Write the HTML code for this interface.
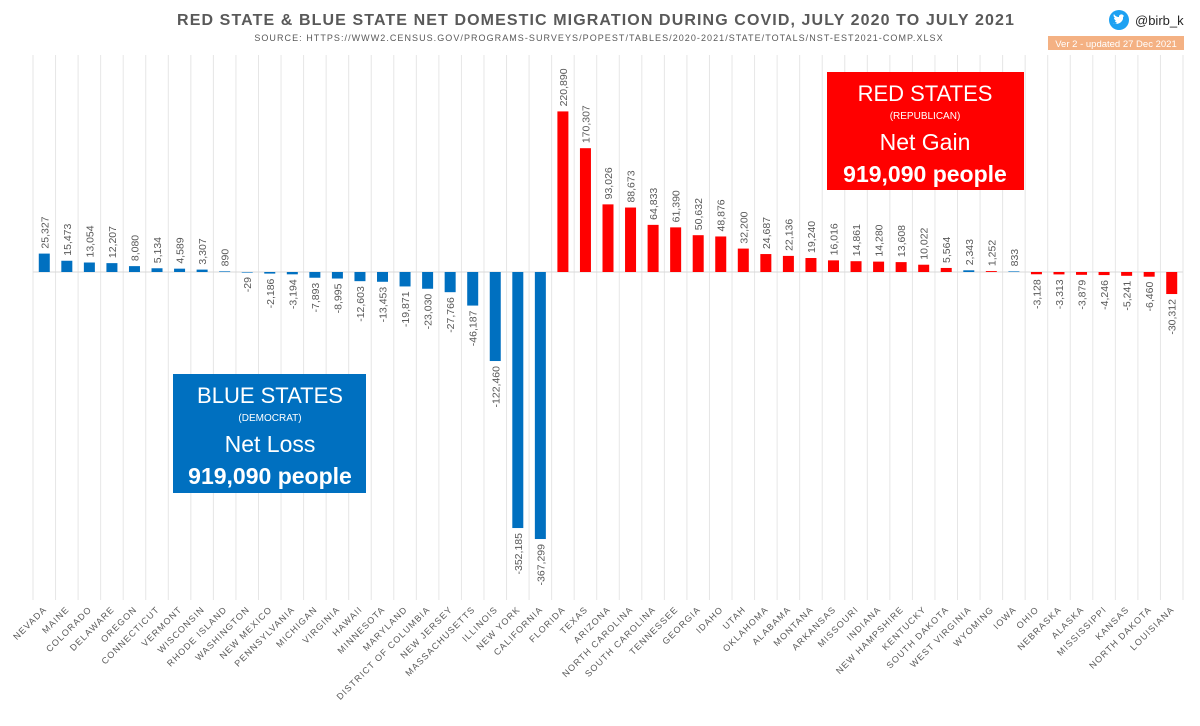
<!DOCTYPE html>
<html><head><meta charset="utf-8"><style>
body{margin:0;background:#fff;width:1200px;height:721px;overflow:hidden;font-family:"Liberation Sans",sans-serif}
svg text{font-family:"Liberation Sans",sans-serif}
</style></head><body>
<svg id="c" width="1200" height="721" viewBox="0 0 1200 721">
<text x="596" y="25" text-anchor="middle" font-size="16" font-weight="bold" fill="#595959" letter-spacing="1.1">RED STATE &amp; BLUE STATE NET DOMESTIC MIGRATION DURING COVID, JULY 2020 TO JULY 2021</text>
<text x="599" y="41" text-anchor="middle" font-size="9" fill="#595959" letter-spacing="1.05">SOURCE: HTTPS://WWW2.CENSUS.GOV/PROGRAMS-SURVEYS/POPEST/TABLES/2020-2021/STATE/TOTALS/NST-EST2021-COMP.XLSX</text>
<g>
<circle cx="1119" cy="20" r="10" fill="#1DA1F2"/>
<path d="M1113 23c3 2 8 1 10-4v-2l1-1-1 0 1-1-1 0c-1-1-3-1-4 1v1c-2 0-4-1-5-3-1 2 0 3 1 4h-1c0 1 1 2 2 3h-1c0 1 1 1 2 2-1 1-3 1-4 0z" fill="#fff"/>
<text x="1135" y="25" font-size="13" fill="#262626">@birb_k</text>
</g>
<g>
<rect x="1048" y="36" width="136" height="14" fill="#F4B183"/>
<text x="1116" y="47" text-anchor="middle" font-size="9.5" fill="#fff">Ver 2 - updated 27 Dec 2021</text>
</g>
<g id="grid"></g><g id="bars"></g><g id="vals"></g><g id="cats"></g>
<g>
<rect x="827" y="72" width="197" height="118" fill="#FF0000"/>
<text x="925" y="101" text-anchor="middle" font-size="22" fill="#fff">RED STATES</text>
<text x="925" y="119" text-anchor="middle" font-size="10" fill="#fff">(REPUBLICAN)</text>
<text x="925" y="150" text-anchor="middle" font-size="23" fill="#fff">Net Gain</text>
<text x="925" y="182" text-anchor="middle" font-size="23" font-weight="bold" fill="#fff">919,090 people</text>
</g>
<g>
<rect x="173" y="374" width="193" height="119" fill="#0070C0"/>
<text x="270" y="403" text-anchor="middle" font-size="22" fill="#fff">BLUE STATES</text>
<text x="270" y="421" text-anchor="middle" font-size="10" fill="#fff">(DEMOCRAT)</text>
<text x="270" y="452" text-anchor="middle" font-size="23" fill="#fff">Net Loss</text>
<text x="270" y="484" text-anchor="middle" font-size="23" font-weight="bold" fill="#fff">919,090 people</text>
</g>
</svg>
<script>
const states=["NEVADA","MAINE","COLORADO","DELAWARE","OREGON","CONNECTICUT","VERMONT","WISCONSIN","RHODE ISLAND","WASHINGTON","NEW MEXICO","PENNSYLVANIA","MICHIGAN","VIRGINIA","HAWAII","MINNESOTA","MARYLAND","DISTRICT OF COLUMBIA","NEW JERSEY","MASSACHUSETTS","ILLINOIS","NEW YORK","CALIFORNIA","FLORIDA","TEXAS","ARIZONA","NORTH CAROLINA","SOUTH CAROLINA","TENNESSEE","GEORGIA","IDAHO","UTAH","OKLAHOMA","ALABAMA","MONTANA","ARKANSAS","MISSOURI","INDIANA","NEW HAMPSHIRE","KENTUCKY","SOUTH DAKOTA","WEST VIRGINIA","WYOMING","IOWA","OHIO","NEBRASKA","ALASKA","MISSISSIPPI","KANSAS","NORTH DAKOTA","LOUISIANA"];
const values=[25327,15473,13054,12207,8080,5134,4589,3307,890,-29,-2186,-3194,-7893,-8995,-12603,-13453,-19871,-23030,-27766,-46187,-122460,-352185,-367299,220890,170307,93026,88673,64833,61390,50632,48876,32200,24687,22136,19240,16016,14861,14280,13608,10022,5564,2343,1252,833,-3128,-3313,-3879,-4246,-5241,-6460,-30312];
const party=["B","B","B","B","B","B","B","B","B","B","B","B","B","B","B","B","B","B","B","B","B","B","B","R","R","R","R","R","R","R","R","R","R","R","R","R","R","R","R","R","R","B","R","B","R","R","R","R","R","R","R"];
const NS="http://www.w3.org/2000/svg";
const x0=33,x1=1183,band=(x1-x0)/states.length,zeroY=272,k=0.000727;
const xc=i=>x0+band*(i+0.5);
const y=v=>zeroY-v*k;
function mk(t,a,p){const e=document.createElementNS(NS,t);for(const n in a)e.setAttribute(n,a[n]);p.appendChild(e);return e;}
const G=document.getElementById('grid'),B=document.getElementById('bars'),V=document.getElementById('vals'),C=document.getElementById('cats');
for(let i=0;i<=states.length;i++){const l=mk('line',{x1:x0+band*i,x2:x0+band*i,y1:55,y2:600,stroke:'#E6E6E6','stroke-width':1},G);

}
const zl=mk('line',{x1:x0,x2:x1,y1:zeroY,y2:zeroY,stroke:'#D9D9D9'},G);


values.forEach((v,i)=>{
 const cx=xc(i),top=Math.min(y(v),zeroY),h=Math.max(Math.abs(y(v)-zeroY),0.6);
 const r=mk('rect',{x:cx-5.5,y:top,width:11,height:h,fill:party[i]==='R'?'#FF0000':'#0070C0'},B);
 
 
 const s=v.toLocaleString('en-US');
 const ly=v>=0?y(v)-5:y(v)+5;
 const t=mk('text',{x:0,y:0,transform:`translate(${cx+4},${ly}) rotate(-90)`,'font-size':10.5,fill:'#595959','text-anchor':v>=0?'start':'end'},V);
 t.textContent=s;
 
 
 const c=mk('text',{x:0,y:0,transform:`translate(${cx+3},${610}) rotate(-45)`,'font-size':9,fill:'#595959','text-anchor':'end','letter-spacing':'1.1'},C);
 c.textContent=states[i];
 
 
});
</script>
</body></html>
